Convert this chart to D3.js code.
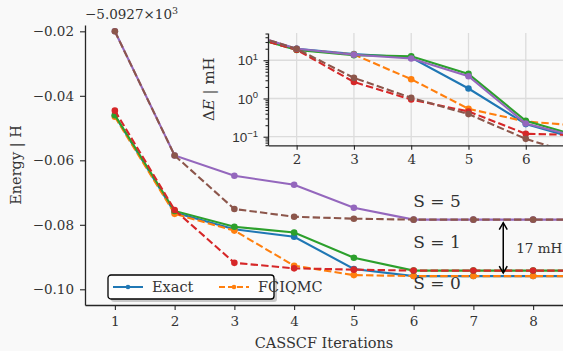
<!DOCTYPE html>
<html><head><meta charset="utf-8">
<script src="https://cdn.jsdelivr.net/npm/d3@7"></script>
<style>
body{margin:0;background:#f9f9f9}
svg{font-family:"DejaVu Serif",serif;display:block}
</style></head><body>
<div id="chart"></div>
<script>
// CASSCF iterations (main plot, last point only runs off the right edge)
var iters = [1, 2, 3, 4, 5, 6, 7, 8, 9];
// energies, offset from -5.0927e3 H
var exactS0 = [-0.0462, -0.0762, -0.0814, -0.0837, -0.0937, -0.0959, -0.0959, -0.0959, -0.0959];
var fciqmcS0 = [-0.0465, -0.0766, -0.0818, -0.0927, -0.0956, -0.0959, -0.0959, -0.0959, -0.0959];
var exactS1 = [-0.0460, -0.0757, -0.0806, -0.0824, -0.0902, -0.0942, -0.0942, -0.0942, -0.0942];
var fciqmcS1 = [-0.0446, -0.0754, -0.0918, -0.0935, -0.0939, -0.0942, -0.0942, -0.0942, -0.0942];
var exactS5 = [-0.0200, -0.0585, -0.0648, -0.0676, -0.0747, -0.0784, -0.0784, -0.0784, -0.0784];
var fciqmcS5 = [-0.0200, -0.0585, -0.0751, -0.0775, -0.0781, -0.0784, -0.0784, -0.0784, -0.0784];

// inset: energy error in mH
var insetIters = [1, 2, 3, 4, 5, 6, 7];
var dExactS0 = [50, 19.9, 14.5, 11.7, 1.82, 0.214, 0.08];
var dFciqmcS0 = [49, 19.3, 14.1, 3.19, 0.536, 0.25, 0.19];
var dExactS1 = [50, 18.5, 13.6, 12.7, 4.4, 0.26, 0.095];
var dFciqmcS1 = [49.5, 18.8, 2.7, 0.94, 0.457, 0.119, 0.11];
var dExactS5 = [58.4, 19.9, 13.9, 11.1, 3.8, 0.222, 0.092];
var dFciqmcS5 = [58.4, 19.9, 3.45, 1.04, 0.39, 0.088, 0.03];

var xTicks = [1, 2, 3, 4, 5, 6, 7, 8];
var yTicks = [-0.10, -0.08, -0.06, -0.04, -0.02];
var insetXTicks = [2, 3, 4, 5, 6];
var insetYTicks = [0.1, 1, 10];
var insetYLabels = ["\u22121", "0", "1"];
var spinLabels = [["S = 5", -0.0745], ["S = 1", -0.0872], ["S = 0", -0.0998]];
var gap = [-0.0784, -0.0959];

var series = [
  {name: "Exact", main: exactS0, inset: dExactS0, color: "#1f77b4", dash: null},
  {name: "FCIQMC", main: fciqmcS0, inset: dFciqmcS0, color: "#ff7f0e", dash: "7.4,3.2"},
  {name: "", main: exactS1, inset: dExactS1, color: "#2ca02c", dash: null},
  {name: "", main: fciqmcS1, inset: dFciqmcS1, color: "#d62728", dash: "7.4,3.2"},
  {name: "", main: exactS5, inset: dExactS5, color: "#9467bd", dash: null},
  {name: "", main: fciqmcS5, inset: dFciqmcS5, color: "#8c564b", dash: "7.4,3.2"}
];

var W = 563, H = 351;
var svg = d3.select("#chart").append("svg").attr("width", W).attr("height", H);
svg.append("rect").attr("width", W).attr("height", H).attr("fill", "#f9f9f9");

var m = {left: 85, right: 563, top: 25, bottom: 305};
var x = d3.scaleLinear().domain([0.5, 8.5]).range([m.left, m.right]);
var y = d3.scaleLinear().domain([-0.10487, -0.01804]).range([m.bottom, m.top]);

svg.append("clipPath").attr("id", "clipMain").append("rect")
  .attr("x", m.left).attr("y", m.top - 5).attr("width", m.right - m.left).attr("height", m.bottom - m.top + 5);

var ink = "#262626";
function styleAxis(g, fs) {
  g.select(".domain").attr("stroke", ink).attr("stroke-width", 1.3);
  g.selectAll(".tick line").attr("stroke", ink).attr("stroke-width", 1.1);
  g.selectAll(".tick text").attr("fill", "#333").style("font-size", fs + "px").style("font-family", "DejaVu Serif");
}

// main lines
var plot = svg.append("g").attr("clip-path", "url(#clipMain)");
var line = d3.line().x(function (d, i) { return x(iters[i]); }).y(function (d) { return y(d); });
series.forEach(function (s) {
  plot.append("path").attr("d", line(s.main)).attr("fill", "none")
    .attr("stroke", s.color).attr("stroke-width", 2.1)
    .attr("stroke-dasharray", s.dash);
  plot.selectAll(null).data(s.main.slice(0, 8)).enter().append("circle")
    .attr("cx", function (d, i) { return x(iters[i]); })
    .attr("cy", function (d) { return y(d); })
    .attr("r", 3.3).attr("fill", s.color);
});

// axes
var gx = svg.append("g").attr("transform", "translate(0," + m.bottom + ")")
  .call(d3.axisBottom(x).tickValues(xTicks).tickSize(5).tickPadding(6).tickSizeOuter(0).tickFormat(d3.format("d")));
styleAxis(gx, 13.5);
var gy = svg.append("g").attr("transform", "translate(" + m.left + ",0)")
  .call(d3.axisLeft(y).tickValues(yTicks).tickSize(5).tickPadding(6).tickSizeOuter(0).tickFormat(d3.format(".2f")));
styleAxis(gy, 13.5);

svg.append("text").attr("x", 85).attr("y", 19).attr("fill", "#333").style("font-size", "13.5px")
  .text("\u22125.0927\u00d710").append("tspan").attr("dy", -5).style("font-size", "9.5px").text("3");

svg.append("text").attr("x", (m.left + m.right) / 2).attr("y", 348).attr("text-anchor", "middle")
  .attr("fill", "#333").style("font-size", "14.5px").text("CASSCF Iterations");
svg.append("text").attr("transform", "translate(21," + (m.top + m.bottom) / 2 + ") rotate(-90)")
  .attr("text-anchor", "middle").attr("fill", "#333").style("font-size", "14.5px").text("Energy | H");

// spin labels
spinLabels.forEach(function (d) {
  svg.append("text").attr("x", 437).attr("y", y(d[1])).attr("text-anchor", "middle")
    .attr("fill", "#333").style("font-size", "17px").text(d[0]);
});

// gap arrow
var ax = x(7.5), ay1 = y(gap[0]) + 3, ay2 = y(gap[1]) - 3;
var arr = svg.append("g").attr("stroke", "#000").attr("stroke-width", 1.5).attr("fill", "none");
arr.append("line").attr("x1", ax).attr("x2", ax).attr("y1", ay1).attr("y2", ay2);
arr.append("path").attr("d", "M" + (ax - 4) + "," + (ay1 + 7) + "L" + ax + "," + ay1 + "L" + (ax + 4) + "," + (ay1 + 7));
arr.append("path").attr("d", "M" + (ax - 4) + "," + (ay2 - 7) + "L" + ax + "," + ay2 + "L" + (ax + 4) + "," + (ay2 - 7));
svg.append("text").attr("x", ax + 13).attr("y", (ay1 + ay2) / 2 + 5)
  .attr("fill", "#333").style("font-size", "13.5px").text("17 mH");

// legend
var lg = svg.append("g").attr("transform", "translate(108,275)");
lg.append("rect").attr("x", 3).attr("y", 3).attr("width", 166).attr("height", 24).attr("rx", 3)
  .attr("fill", "#999").attr("opacity", 0.5);
lg.append("rect").attr("width", 166).attr("height", 24).attr("rx", 3)
  .attr("fill", "#fdfdfd").attr("stroke", "#000").attr("stroke-width", 1.3);
series.slice(0, 2).forEach(function (s, i) {
  var ox = 5 + i * 106;
  lg.append("line").attr("x1", ox).attr("x2", ox + 30).attr("y1", 12).attr("y2", 12)
    .attr("stroke", s.color).attr("stroke-width", 2).attr("stroke-dasharray", s.dash ? "6,3" : null);
  lg.append("circle").attr("cx", ox + 15).attr("cy", 12).attr("r", 2.3).attr("fill", s.color);
  lg.append("text").attr("x", ox + 39).attr("y", 17).attr("fill", "#333").style("font-size", "14.5px").text(s.name);
});

// inset
var im = {left: 268, right: 563, top: 33, bottom: 145.3};
var xi = d3.scaleLinear().domain([1.5, 6.65]).range([im.left, im.right]);
var yi = d3.scaleLog().domain([0.0596, 51.6]).range([im.bottom, im.top]);
var ins = svg.append("g");
ins.append("rect").attr("x", im.left).attr("y", im.top).attr("width", im.right - im.left)
  .attr("height", im.bottom - im.top).attr("fill", "#f9f9f9");
svg.append("clipPath").attr("id", "clipInset").append("rect")
  .attr("x", im.left).attr("y", im.top).attr("width", im.right - im.left).attr("height", im.bottom - im.top);

var grid = ins.append("g").attr("stroke", "#dcdcdc").attr("stroke-width", 1.3);
insetXTicks.forEach(function (t) {
  grid.append("line").attr("x1", xi(t)).attr("x2", xi(t)).attr("y1", im.top).attr("y2", im.bottom);
});
insetYTicks.forEach(function (t) {
  grid.append("line").attr("x1", im.left).attr("x2", im.right).attr("y1", yi(t)).attr("y2", yi(t));
});

var iplot = ins.append("g").attr("clip-path", "url(#clipInset)");
var iline = d3.line().x(function (d, i) { return xi(insetIters[i]); }).y(function (d) { return yi(d); });
series.forEach(function (s) {
  iplot.append("path").attr("d", iline(s.inset)).attr("fill", "none")
    .attr("stroke", s.color).attr("stroke-width", 2.1).attr("stroke-dasharray", s.dash);
  iplot.selectAll(null).data(s.inset).enter().append("circle")
    .attr("cx", function (d, i) { return xi(insetIters[i]); })
    .attr("cy", function (d) { return yi(d); })
    .attr("r", 3.3).attr("fill", s.color);
});

var minor = [];
[0.01, 0.1, 1, 10].forEach(function (dec) {
  for (var k = 2; k <= 9; k++) {
    var v = dec * k;
    if (v > yi.domain()[0] && v < yi.domain()[1]) minor.push(v);
  }
});
var gyiMinor = ins.append("g").attr("transform", "translate(" + im.left + ",0)")
  .call(d3.axisLeft(yi).tickValues(minor).tickSize(2.5).tickFormat("").tickSizeOuter(0));
styleAxis(gyiMinor, 12);
gyiMinor.select(".domain").remove();
var gyi = ins.append("g").attr("transform", "translate(" + im.left + ",0)")
  .call(d3.axisLeft(yi).tickValues(insetYTicks).tickSize(4.5).tickPadding(5).tickSizeOuter(0).tickFormat(""));
styleAxis(gyi, 13.5);
gyi.selectAll(".tick").each(function (d, i) {
  var t = d3.select(this).append("text").attr("x", -10).attr("dy", "0.35em")
    .attr("text-anchor", "end").attr("fill", "#333").style("font-size", "13.5px").text("10");
  t.append("tspan").attr("dy", "-0.55em").style("font-size", "9.5px").text(insetYLabels[i]);
});
var gxi = ins.append("g").attr("transform", "translate(0," + im.bottom + ")")
  .call(d3.axisBottom(xi).tickValues(insetXTicks).tickSize(4.5).tickPadding(5).tickSizeOuter(0).tickFormat(d3.format("d")));
styleAxis(gxi, 13.5);

var il = ins.append("text").attr("transform", "translate(214," + (im.top + im.bottom) / 2 + ") rotate(-90)")
  .attr("text-anchor", "middle").attr("fill", "#333").style("font-size", "15px");
il.append("tspan").text("\u0394");
il.append("tspan").style("font-style", "italic").text("E");
il.append("tspan").text(" | mH");
</script>
</body></html>
